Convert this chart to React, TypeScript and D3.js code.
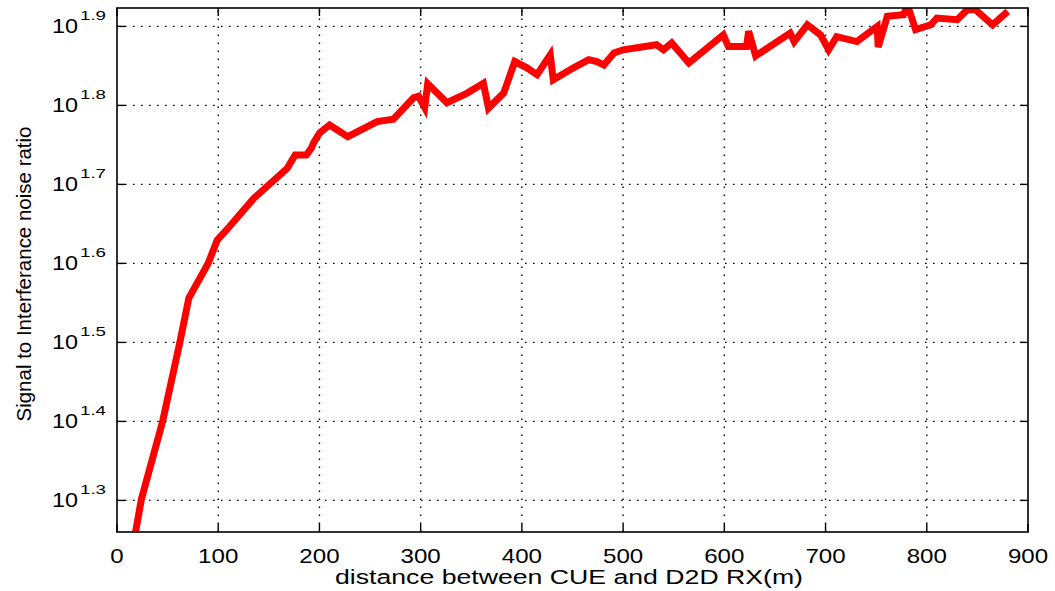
import * as d3 from 'd3';

const W = 1055;
const H = 591;
const [mt, mr, mb, ml] = [8, 27, 59, 117];

// distance between CUE and D2D RX (m)
const distance = [
    15, 24, 45, 62, 71, 90, 99, 111, 135, 168, 176, 187, 192, 194, 200, 210, 228, 257, 273, 293, 298, 304, 307, 326,
    346, 362, 367, 382, 393, 405, 415, 428, 431, 451, 466, 474, 481, 491, 500, 533, 540, 548, 565, 599, 604, 622, 624,
    631, 665, 669, 682, 695, 703, 711, 731, 751, 752, 761, 777, 781, 789, 804, 810, 830, 840, 848, 865, 880
];

// signal to interference noise ratio (linear)
const sinr = [
    17.2, 20.0, 25.1, 31.6, 36.0, 39.8, 42.6, 44.3, 48.1, 52.5, 54.6, 54.6, 55.7, 56.5, 58.2, 59.6, 57.6, 60.2, 60.6,
    64.5, 64.8, 62.7, 67.2, 63.6, 65.4, 67.3, 62.6, 65.4, 71.7, 70.4, 69.0, 73.1, 68.0, 70.4, 72.1, 71.7, 71.0, 73.5,
    74.2, 75.3, 74.2, 75.7, 71.4, 77.5, 74.9, 74.9, 78.3, 72.9, 77.9, 76.0, 79.8, 77.5, 74.2, 77.1, 76.0, 79.4, 74.8,
    81.8, 82.2, 84.4, 78.7, 79.8, 81.4, 81.0, 83.4, 83.4, 79.8, 83.0
];

const xTicks = [0, 100, 200, 300, 400, 500, 600, 700, 800, 900];
const yTickExps = ['1.3', '1.4', '1.5', '1.6', '1.7', '1.8', '1.9'];

const x = d3.scaleLinear().domain([0, 900]).range([ml, W - mr]);
const y = d3
    .scaleLog()
    .domain([Math.pow(10, 1.26), Math.pow(10, 1.9233)])
    .range([H - mb, mt]);

const font = '"Liberation Sans", Arial, sans-serif';

export default function App() {
    const pts = distance.map((d, i) => [d, sinr[i]] as [number, number]);
    const line = d3
        .line<[number, number]>()
        .x((d) => x(d[0]))
        .y((d) => y(d[1]));

    const left = ml;
    const right = W - mr;
    const top = mt;
    const bottom = H - mb;
    const tickLen = 8;

    return (
        <svg
            width={W}
            height={H}
            style={{ position: 'absolute', left: 0, top: 0, background: '#fff' }}
            fontFamily={font}
        >
            <defs>
                <clipPath id="plot">
                    <rect x={left} y={top} width={right - left} height={bottom - top} />
                </clipPath>
            </defs>
            <rect x={0} y={0} width={W} height={H} fill="#fff" />

            {/* grid */}
            <g stroke="#000" strokeWidth={1.4} strokeDasharray="1.6,6.4">
                {xTicks.slice(1, -1).map((t) => (
                    <line key={'gx' + t} x1={x(t)} x2={x(t)} y1={bottom} y2={top} />
                ))}
                {yTickExps.map((e) => (
                    <line key={'gy' + e} x1={left} x2={right} y1={y(Math.pow(10, +e))} y2={y(Math.pow(10, +e))} />
                ))}
            </g>

            {/* data */}
            <path
                d={line(pts) || ''}
                clipPath="url(#plot)"
                fill="none"
                stroke="#ff0000"
                strokeWidth={7}
                strokeLinejoin="miter"
            />

            {/* ticks */}
            <g stroke="#000" strokeWidth={1.4}>
                {xTicks.map((t) => (
                    <g key={'tx' + t}>
                        <line x1={x(t)} x2={x(t)} y1={bottom} y2={bottom - tickLen} />
                        <line x1={x(t)} x2={x(t)} y1={top} y2={top + tickLen} />
                    </g>
                ))}
                {yTickExps.map((e) => (
                    <g key={'ty' + e}>
                        <line x1={left} x2={left + tickLen} y1={y(Math.pow(10, +e))} y2={y(Math.pow(10, +e))} />
                        <line x1={right} x2={right - tickLen} y1={y(Math.pow(10, +e))} y2={y(Math.pow(10, +e))} />
                    </g>
                ))}
            </g>

            {/* axes box */}
            <rect x={left} y={top} width={right - left} height={bottom - top} fill="none" stroke="#000" strokeWidth={1.6} />

            {/* x tick labels */}
            {xTicks.map((t) => (
                <text
                    key={'lx' + t}
                    x={x(t)}
                    y={563}
                    fontSize={21}
                    textAnchor="middle"
                    textLength={String(t).length * 13.4}
                    lengthAdjust="spacingAndGlyphs"
                >
                    {t}
                </text>
            ))}

            {/* y tick labels */}
            {yTickExps.map((e) => {
                const yy = y(Math.pow(10, +e));
                return (
                    <g key={'ly' + e}>
                        <text x={52} y={yy + 7} fontSize={21} textLength={26} lengthAdjust="spacingAndGlyphs">
                            10
                        </text>
                        <text x={80} y={yy - 6} fontSize={13.5} textLength={26} lengthAdjust="spacingAndGlyphs">
                            {e}
                        </text>
                    </g>
                );
            })}

            {/* axis labels */}
            <text x={335} y={584} fontSize={20} textLength={468} lengthAdjust="spacingAndGlyphs">
                distance between CUE and D2D RX(m)
            </text>
            <text
                transform={`translate(31,274) rotate(-90)`}
                fontSize={20.5}
                textAnchor="middle"
                textLength={295}
                lengthAdjust="spacingAndGlyphs"
            >
                Signal to Interferance noise ratio
            </text>
        </svg>
    );
}
